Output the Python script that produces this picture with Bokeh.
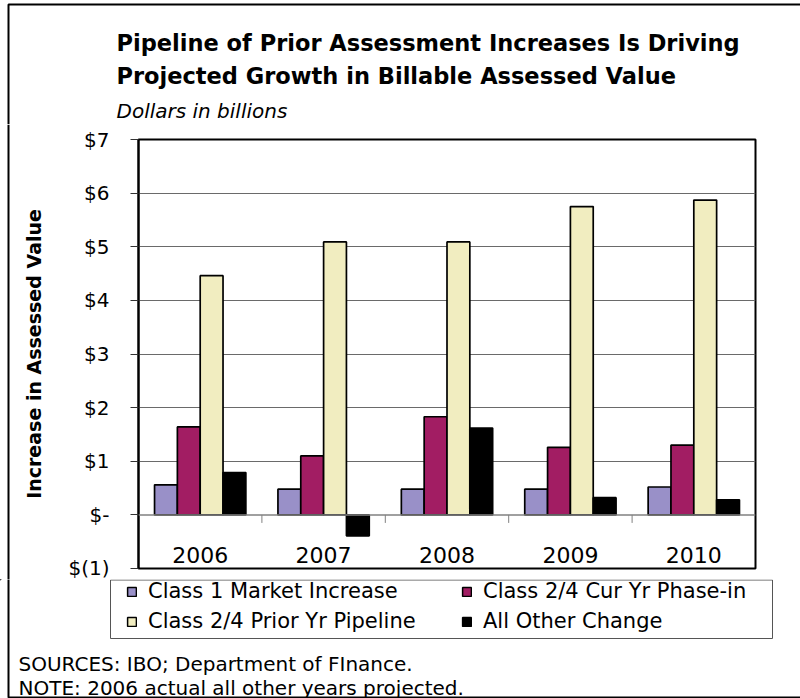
import math
from bokeh.plotting import figure
from bokeh.layouts import column, row
from bokeh.models import (FactorRange, Range1d, LinearAxis, FixedTicker, Grid,
                          Label, BoxAnnotation, Legend, LegendItem, ColumnDataSource, Span)
from bokeh.transform import dodge
from bokeh.core.properties import value
from bokeh.embed import file_html
from bokeh.resources import INLINE

# ---- data ----
years = ["2006", "2007", "2008", "2009", "2010"]
class1_market = [0.56, 0.48, 0.48, 0.48, 0.52]
class24_cur_phase_in = [1.64, 1.10, 1.83, 1.26, 1.30]
class24_prior_pipeline = [4.46, 5.09, 5.09, 5.75, 5.87]
all_other_change = [0.79, -0.39, 1.62, 0.32, 0.28]
series_names = ["Class 1 Market Increase", "Class 2/4 Cur Yr Phase-in",
                "Class 2/4 Prior Yr Pipeline", "All Other Change"]
series_keys = ["class1", "cur", "pipe", "other"]
y_ticks = [-1, 0, 1, 2, 3, 4, 5, 6, 7]
y_tick_labels = ["$(1)", "$-", "$1", "$2", "$3", "$4", "$5", "$6", "$7"]
title_lines = ["Pipeline of Prior Assessment Increases Is Driving",
               "Projected Growth in Billable Assessed Value"]
subtitle = "Dollars in billions"
y_title = "Increase in Assessed Value"
sources_text = "SOURCES: IBO; Department of FInance."
note_text = "NOTE: 2006 actual all other years projected."

colors = ["#9990C8", "#A21D63", "#F1EDC0", "#000000"]
FONT = "DejaVu Sans"
W = 800
STRIP = 10
H_TOP, H_MAIN = 124, 455
H_BOT = 698 - H_TOP - H_MAIN


def blank(width, height):
    f = figure(width=width, height=height, x_range=Range1d(0, width), y_range=Range1d(height, 0),
               output_backend="svg", toolbar_location=None,
               x_axis_location=None, y_axis_location=None, min_border=0, frame_align=False)
    f.grid.grid_line_color = None
    f.outline_line_color = None
    f.background_fill_color = "white"
    f.border_fill_color = "white"
    return f


def lab(fig, text, x, y, size, style="normal", **kw):
    fig.add_layout(Label(x=x, y=y, text=text, text_font=FONT, text_font_size=size,
                         text_font_style=style, text_color="black", **kw))


def border_box(fig, **kw):
    fig.add_layout(BoxAnnotation(fill_alpha=0, line_color="black", line_alpha=1,
                                 line_width=2, **kw))


# ---------- top: titles ----------
top = blank(W, H_TOP)
border_box(top, left=8, right=W + 50, top=4, bottom=H_TOP + 50)
lab(top, title_lines[0], 116, 42, "22.5px", "bold", text_baseline="alphabetic")
lab(top, title_lines[1], 116, 75, "22.5px", "bold", text_baseline="alphabetic")
lab(top, subtitle, 116, 110, "20px", "italic", text_baseline="alphabetic")

# ---------- left strip with the outer border line ----------
strip = blank(STRIP, H_MAIN)
strip.add_layout(Span(location=8, dimension="height", line_color="black", line_width=2))

# ---------- main chart ----------
src = ColumnDataSource(dict(years=years, class1=class1_market, cur=class24_cur_phase_in,
                            pipe=class24_prior_pipeline, other=all_other_change))

p = figure(width=W - STRIP, height=H_MAIN, x_range=FactorRange(factors=years),
           y_range=Range1d(-1, 7), output_backend="svg", toolbar_location=None,
           x_axis_location=None, y_axis_location=None, frame_align=False,
           min_border_left=138 - STRIP, min_border_right=45, min_border_top=139 - H_TOP,
           min_border_bottom=11)
p.grid.grid_line_color = None
p.background_fill_color = "white"
p.border_fill_color = "white"
p.outline_line_color = "black"
p.outline_line_width = 2

p.add_layout(Grid(dimension=1, ticker=FixedTicker(ticks=[1, 2, 3, 4, 5, 6]),
                  grid_line_color="#6a6a6a", grid_line_width=1))

bw = 0.185
offsets = [-1.5 * bw, -0.5 * bw, 0.5 * bw, 1.5 * bw]
for key, off, col in zip(series_keys, offsets, colors):
    p.vbar(x=dodge("years", off, range=p.x_range), top=key, bottom=0, width=bw,
           source=src, fill_color=col, line_color="black", line_width=1.7)

# zero line with small ticks between categories
p.add_layout(Span(location=0, dimension="width", line_color="#808080", line_width=1.5))
tick_src = ColumnDataSource(dict(years=years[:-1]))
p.segment(x0=dodge("years", 0.5, range=p.x_range), x1=dodge("years", 0.5, range=p.x_range),
          y0=0, y1=-0.15, source=tick_src, line_color="#808080", line_width=1)

# category labels under the zero line
p.text(x="years", y=-0.74, text="years", source=src, text_align="center",
       text_baseline="middle", text_font=value(FONT), text_font_size="22px", text_color="black")

yaxis = LinearAxis(ticker=FixedTicker(ticks=y_ticks),
                   major_label_overrides={t: l for t, l in zip(y_ticks, y_tick_labels)})
yaxis.axis_line_color = "black"
yaxis.axis_line_width = 2
yaxis.major_tick_out = 8
yaxis.major_tick_in = 0
yaxis.major_tick_line_color = "#333333"
yaxis.minor_tick_line_color = None
yaxis.major_label_standoff = 21
yaxis.major_label_text_font = FONT
yaxis.major_label_text_font_size = "20px"
yaxis.major_label_text_color = "black"
yaxis.axis_label = y_title
yaxis.axis_label_text_font = FONT
yaxis.axis_label_text_font_size = "19px"
yaxis.axis_label_text_font_style = "bold"
yaxis.axis_label_text_color = "black"
yaxis.axis_label_standoff = 20
p.add_layout(yaxis, "left")

# ---------- bottom: legend and notes ----------
bot = blank(W, H_BOT)
border_box(bot, left=8, right=W + 50, top=-50, bottom=H_BOT - 1)
bot.add_layout(BoxAnnotation(left=110, right=772, top=0.5, bottom=59,
                             fill_color="white", fill_alpha=1,
                             line_color="#555555", line_alpha=1, line_width=1))
# legend swatches (drawn off the visible area; only their legend glyphs show)
leg_r = []
for col in colors:
    leg_r.append(bot.vbar(x=[-100], top=[-100], bottom=[-110], width=1, fill_color=col,
                          line_color="black", line_width=1.5))


def mk_legend(items, x):
    lg = Legend(items=items, location=(x, 65))
    lg.border_line_color = None
    lg.background_fill_alpha = 0
    lg.padding = 0
    lg.margin = 0
    lg.spacing = 6
    lg.glyph_width = 11
    lg.glyph_height = 11
    lg.label_standoff = 11
    lg.label_text_font = FONT
    lg.label_text_font_size = "21px"
    lg.label_text_color = "black"
    return lg


bot.add_layout(mk_legend([LegendItem(label=series_names[0], renderers=[leg_r[0]]),
                          LegendItem(label=series_names[2], renderers=[leg_r[2]])], 126))
bot.add_layout(mk_legend([LegendItem(label=series_names[1], renderers=[leg_r[1]]),
                          LegendItem(label=series_names[3], renderers=[leg_r[3]])], 461))
lab(bot, sources_text, 18, 84, "20px", text_baseline="alphabetic")
lab(bot, note_text, 18, 108, "20px", text_baseline="alphabetic")

layout = column(top, row(strip, p, spacing=0), bot, spacing=0)

open("out.html", "w").write(file_html(layout, INLINE))
